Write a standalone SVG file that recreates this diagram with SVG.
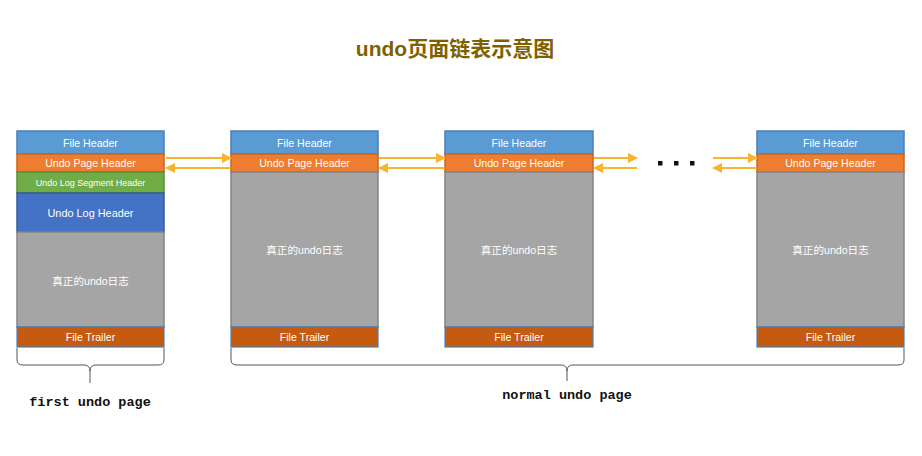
<svg xmlns="http://www.w3.org/2000/svg" width="922" height="456" viewBox="0 0 922 456">
<style>
.t{font-family:"Liberation Sans","Noto Sans CJK SC",sans-serif;fill:#fff;text-anchor:middle;dominant-baseline:central;font-size:10.6px}
.fh{fill:#5B9BD5;stroke:#4A7EBB;stroke-width:1.5}
.uph{fill:#ED7D31;stroke:#C9651F;stroke-width:1.5}
.seg{fill:#70AD47;stroke:#5A8F38;stroke-width:1.5}
.lh{fill:#4472C4;stroke:#36599A;stroke-width:1.5}
.gr{fill:#A5A5A5;stroke:#858585;stroke-width:1.5}
.tr{fill:#C55A11;stroke:#4A7EBB;stroke-width:1.2}
.ar{stroke:#F8B52C;stroke-width:2;fill:none}
.br{stroke:#555;stroke-width:1;fill:none}
.lbl{font-family:"Liberation Mono","Noto Sans CJK SC",monospace;font-size:13.5px;font-weight:bold;fill:#111;text-anchor:middle}
</style>
<defs>
<marker id="ah" viewBox="0 0 10 10" refX="9" refY="5" markerWidth="10" markerHeight="10" markerUnits="userSpaceOnUse" orient="auto">
<path d="M0,0 L10,5 L0,10 z" fill="#F8B52C"/>
</marker>
</defs>
<rect width="922" height="456" fill="#fff"/>
<text x="455" y="48" font-family="'Liberation Sans','Noto Sans CJK SC',sans-serif" font-size="21" font-weight="bold" fill="#7F6000" text-anchor="middle" dominant-baseline="central">undo页面链表示意图</text>

<g id="page1">
<rect class="fh" x="17" y="131" width="147" height="23"/>
<text class="t" x="90.5" y="143">File Header</text>
<rect class="uph" x="17" y="154" width="147" height="18"/>
<text class="t" x="90.5" y="163">Undo Page Header</text>
<rect class="seg" x="17" y="172" width="147" height="21"/>
<text class="t" x="90.5" y="183" style="font-size:9px">Undo Log Segment Header</text>
<rect class="lh" x="17" y="193" width="147" height="39"/>
<text class="t" x="90.5" y="213" style="font-size:10.9px">Undo Log Header</text>
<rect class="gr" x="17" y="232" width="147" height="95"/>
<text class="t" x="90.5" y="281">真正的undo日志</text>
<rect class="tr" x="17" y="327" width="147" height="20"/>
<text class="t" x="90.5" y="337">File Trailer</text>
</g>

<g id="page2">
<rect class="fh" x="231" y="131" width="147" height="23"/>
<text class="t" x="304.5" y="143">File Header</text>
<rect class="uph" x="231" y="154" width="147" height="18"/>
<text class="t" x="304.5" y="163">Undo Page Header</text>
<rect class="gr" x="231" y="172" width="147" height="155"/>
<text class="t" x="304.5" y="250">真正的undo日志</text>
<rect class="tr" x="231" y="327" width="147" height="20"/>
<text class="t" x="304.5" y="337">File Trailer</text>
</g>

<g id="page3">
<rect class="fh" x="445" y="131" width="148" height="23"/>
<text class="t" x="519" y="143">File Header</text>
<rect class="uph" x="445" y="154" width="148" height="18"/>
<text class="t" x="519" y="163">Undo Page Header</text>
<rect class="gr" x="445" y="172" width="148" height="155"/>
<text class="t" x="519" y="250">真正的undo日志</text>
<rect class="tr" x="445" y="327" width="148" height="20"/>
<text class="t" x="519" y="337">File Trailer</text>
</g>

<g id="page4">
<rect class="fh" x="757" y="131" width="147" height="23"/>
<text class="t" x="830.5" y="143">File Header</text>
<rect class="uph" x="757" y="154" width="147" height="18"/>
<text class="t" x="830.5" y="163">Undo Page Header</text>
<rect class="gr" x="757" y="172" width="147" height="155"/>
<text class="t" x="830.5" y="250">真正的undo日志</text>
<rect class="tr" x="757" y="327" width="147" height="20"/>
<text class="t" x="830.5" y="337">File Trailer</text>
</g>

<g id="ellipsis" fill="#111">
<rect x="658" y="161" width="4.5" height="4.5"/>
<rect x="674" y="161" width="4.5" height="4.5"/>
<rect x="690" y="161" width="4.5" height="4.5"/>
</g>

<g id="connectors">
<line class="ar" x1="166" y1="158" x2="231" y2="158" marker-end="url(#ah)"/>
<line class="ar" x1="231" y1="168" x2="166" y2="168" marker-end="url(#ah)"/>
<line class="ar" x1="379" y1="158" x2="445" y2="158" marker-end="url(#ah)"/>
<line class="ar" x1="445" y1="168" x2="379" y2="168" marker-end="url(#ah)"/>
<line class="ar" x1="594" y1="158" x2="637" y2="158" marker-end="url(#ah)"/>
<line class="ar" x1="637" y1="168" x2="594" y2="168" marker-end="url(#ah)"/>
<line class="ar" x1="713" y1="158" x2="757" y2="158" marker-end="url(#ah)"/>
<line class="ar" x1="757" y1="168" x2="713" y2="168" marker-end="url(#ah)"/>
</g>

<g id="brace1">
<path class="br" d="M17,348 L17,360 Q17,365 23,365 L84,365 Q90,365 90,371 L90,383 M90,371 Q90,365 96,365 L158,365 Q164,365 164,360 L164,348"/>
<text class="lbl" x="90" y="406">first undo page</text>
</g>
<g id="brace2">
<path class="br" d="M231,348 L231,360 Q231,365 237,365 L561,365 Q567,365 567,371 L567,381 M567,371 Q567,365 573,365 L898,365 Q904,365 904,360 L904,348"/>
<text class="lbl" x="567" y="399">normal undo page</text>
</g>
</svg>
